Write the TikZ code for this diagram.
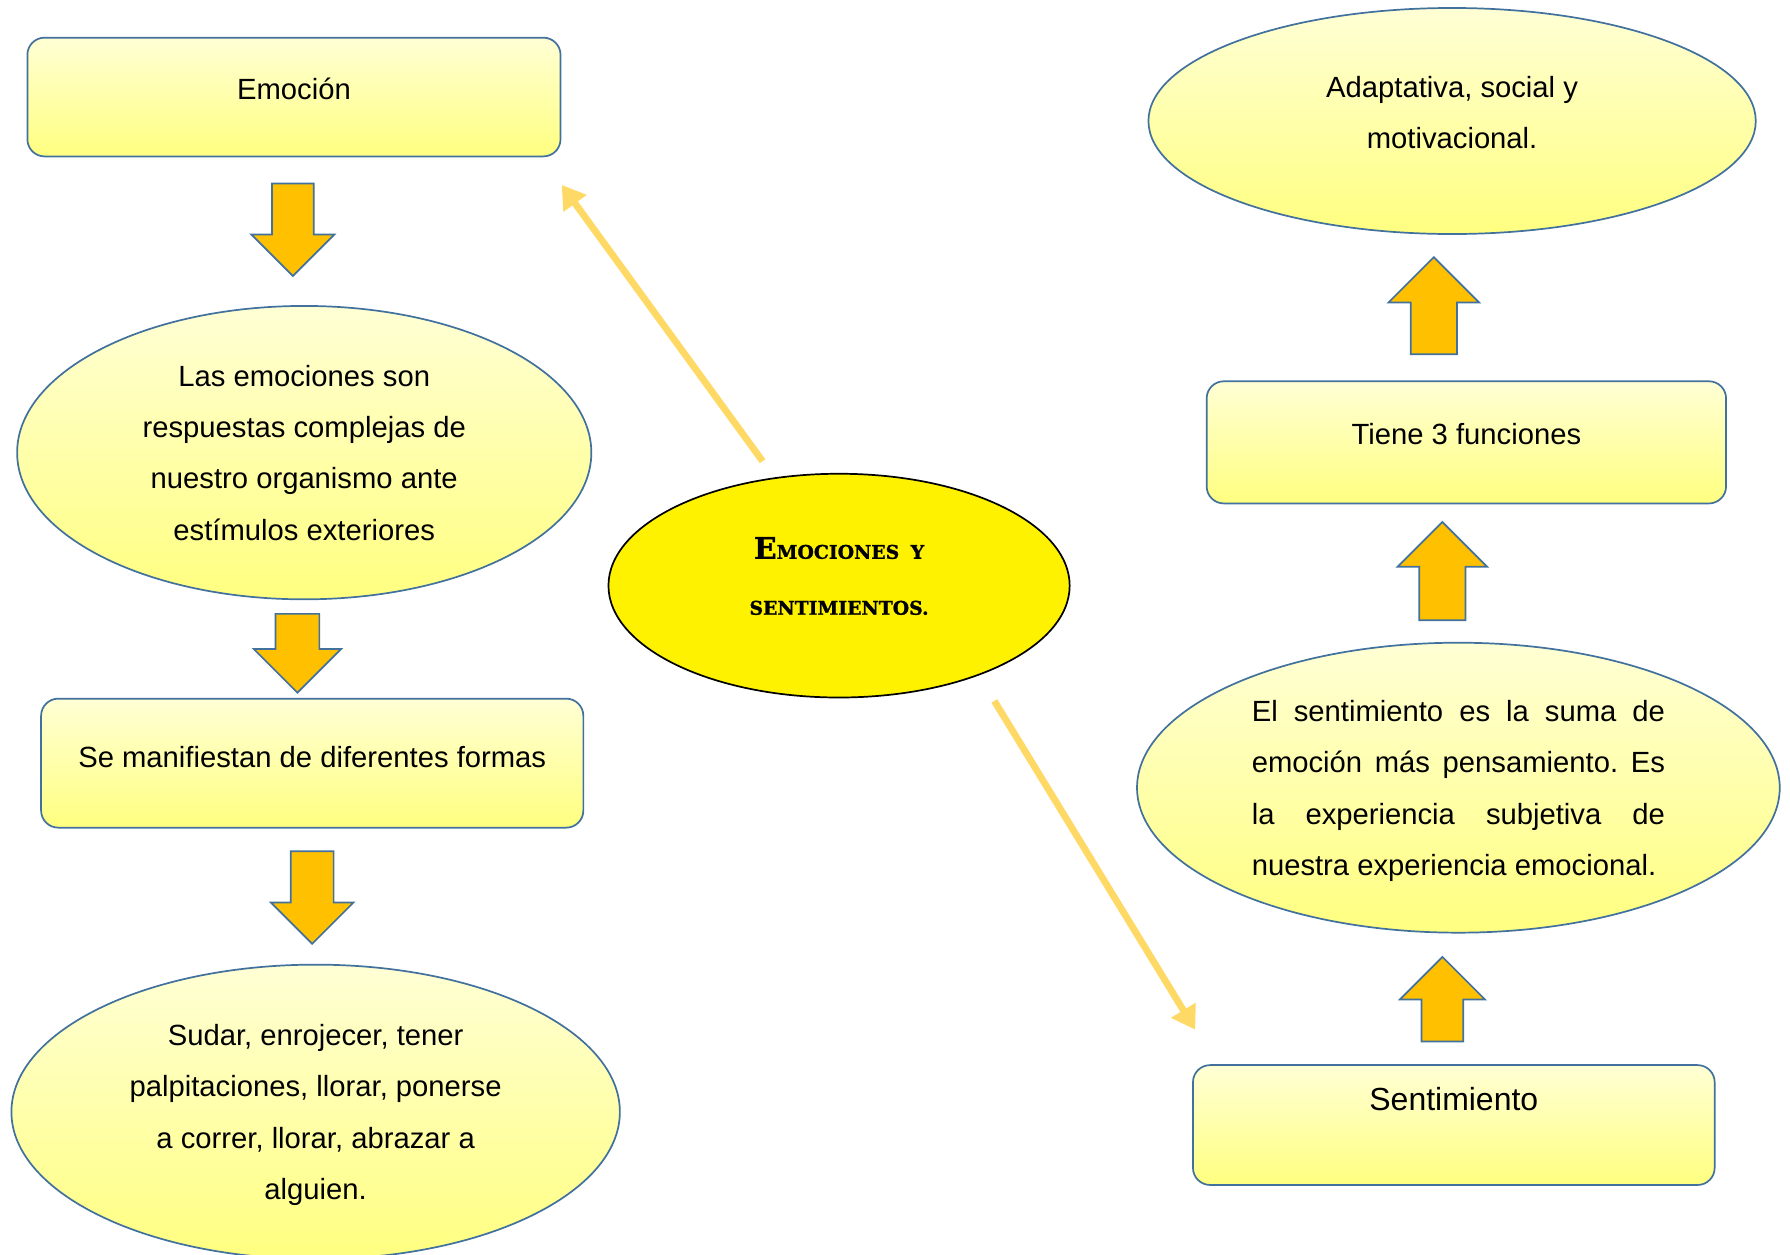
\documentclass[tikz,border=0pt]{standalone}
\usepackage{fontspec}
\setmainfont{Liberation Sans}
\newfontfamily\titlefont{DejaVu Serif}[BoldFeatures={FakeBold=1.2}]
\usetikzlibrary{shapes.geometric,shapes.arrows,arrows.meta}

\definecolor{edgeblue}{HTML}{41719C}
\definecolor{blockorange}{HTML}{FFC000}
\definecolor{linkgold}{HTML}{FFD966}
\definecolor{paleyellow}{HTML}{FFFFD5}
\definecolor{softyellow}{HTML}{FFFF80}

\tikzset{
  concept/.style={draw=edgeblue, line width=1.5pt, top color=paleyellow, bottom color=softyellow,
    font=\fontsize{25.6pt}{45pt}\selectfont},
  box/.style={concept, rectangle, rounded corners=15pt, inner sep=0pt, text height=18.4pt},
  bubble/.style={concept, ellipse, inner sep=0pt, align=center},
  % length, shaft width, head extend
  block/.style n args={3}{minimum height=#1pt, inner xsep=0pt, inner ysep=#2pt/2, single arrow head extend=#3pt},
  blockdown/.style={single arrow, draw=edgeblue, fill=blockorange, line width=1.5pt,
    single arrow tip angle=90, rotate=-90, anchor=tail},
  blockup/.style={blockdown, rotate=180},
  link/.style={draw=linkgold, line width=6pt, -{Triangle[length=20pt,width=24pt]}}
}

\begin{document}
\frenchspacing
\begin{tikzpicture}[x=1pt,y=-1pt]
\useasboundingbox (0,0) rectangle (1568,1099);

% left column: emocion
\node[box, minimum width=467pt, minimum height=104pt, text depth=14pt] (emocion) at (257.5,85) {Emoción};
\node[bubble, minimum width=503pt, minimum height=257pt] (respuestas) at (266.5,396.5)
  {Las emociones son\\respuestas complejas de\\nuestro organismo ante\\estímulos exteriores};
\node[box, minimum width=475pt, minimum height=113pt, text depth=11pt] (formas) at (273.5,668.5)
  {Se manifiestan de diferentes formas};
\node[bubble, minimum width=533pt, minimum height=258pt, text depth=0pt] (ejemplos) at (276.5,974)
  {Sudar, enrojecer, tener\\palpitaciones, llorar, ponerse\\a correr, llorar, abrazar a\\alguien.};

\node[blockdown, block={81}{35}{18}] (flecha1) at (256.5,160) {};
\node[blockdown, block={69}{37}{19}] (flecha2) at (260.5,537) {};
\node[blockdown, block={81}{36}{17.5}] (flecha3) at (273.5,745) {};

% centre
\node[ellipse, draw=black, line width=1.5pt, fill=yellow, minimum width=404pt, minimum height=196pt,
  inner sep=0pt, align=center, text depth=17pt, font=\titlefont\bfseries\fontsize{16.5pt}{49pt}\selectfont] (tema) at (735,513)
  {{\fontsize{26pt}{49pt}\selectfont E}MOCIONES\hspace{10pt}Y\\SENTIMIENTOS.};

% right column: sentimiento
\node[bubble, minimum width=532pt, minimum height=198pt, text depth=15pt] (funciones) at (1272,106)
  {Adaptativa, social y\\motivacional.};
\node[box, minimum width=455pt, minimum height=107pt, text depth=15pt] (tiene) at (1284.5,387.5)
  {Tiene 3 funciones};
\node[bubble, minimum width=563pt, minimum height=254pt, text width=362pt, align=justify, text height=24.5pt] (definicion) at (1277.5,690)
  {El sentimiento es la suma de\linebreak emoción más pensamiento. Es\linebreak la experiencia subjetiva de\linebreak nuestra experiencia emocional.};
\node[box, minimum width=457pt, minimum height=105pt, font=\fontsize{28pt}{34pt}\selectfont,
  text height=20pt, text depth=45pt] (sentimiento) at (1273.5,985.5) {Sentimiento};

\node[blockup, block={85}{39}{19.5}] (flecha4) at (1256,311) {};
\node[blockup, block={86}{39}{19}] (flecha5) at (1263.5,544) {};
\node[blockup, block={74}{35}{19}] (flecha6) at (1263.5,913) {};

% links from the centre
\coordinate (haciaemo) at (492,162);
\coordinate (salidaemo) at (668,404);
\coordinate (haciasen) at (1047,902);
\coordinate (salidasen) at (871,614);
\draw[link] (salidaemo) -- (haciaemo);
\draw[link] (salidasen) -- (haciasen);
\end{tikzpicture}
\end{document}
